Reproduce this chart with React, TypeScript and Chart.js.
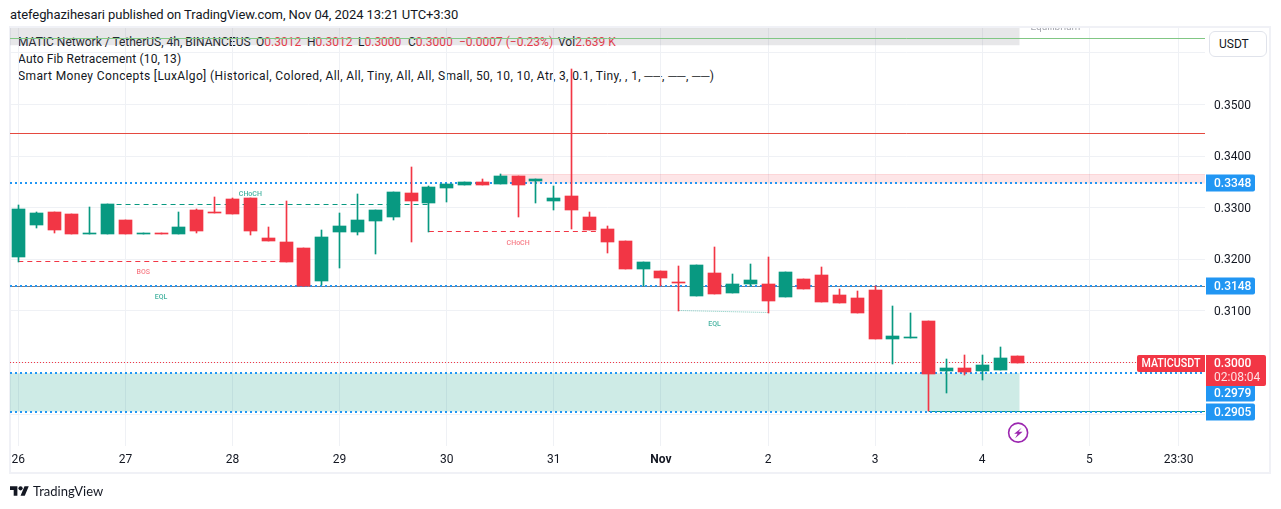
import React, { useEffect, useRef } from "react";
import { Chart, registerables } from "chart.js";

Chart.register(...registerables);

const FONT = "Roboto, sans-serif";
const UP = "#089981";
const DOWN = "#F23645";
const BLUE = "#2196F3";

const opens = [.3204,.3266,.3292,.3288,.3249,.3249,.3276,.3249,.3251,.3249,.3296,.3292,.3317,.3319,.3241,.3233,.3222,.3158,.3253,.3253,.3274,.3282,.3329,.3309,.3338,.3344,.3350,.3346,.3361,.3352,.3313,.3323,.3282,.3259,.3235,.3181,.3177,.3156,.3129,.3173,.3135,.3152,.3152,.3127,.3162,.3170,.3131,.3125,.3141,.3046,.3047,.3080,.2983,.2989,.2983,.2985,.3012];
const closes = [.3297,.3290,.3257,.3249,.3251,.3307,.3249,.3251,.3249,.3263,.3255,.3290,.3288,.3255,.3235,.3195,.3148,.3243,.3265,.3276,.3296,.3330,.3313,.3340,.3346,.3350,.3344,.3361,.3344,.3356,.3319,.3296,.3257,.3233,.3181,.3195,.3164,.3154,.3189,.3133,.3152,.3160,.3119,.3175,.3142,.3117,.3115,.3096,.3046,.3051,.3049,.2978,.2989,.2982,.2995,.3009,.3000];
const highs = [.3305,.3292,.3292,.3288,.3301,.3307,.3276,.3251,.3251,.3292,.3297,.3321,.3319,.3319,.3263,.3313,.3222,.3257,.3290,.3327,.3296,.3330,.3379,.3342,.3346,.3350,.3356,.3365,.3361,.3356,.3342,.3569,.3292,.3265,.3235,.3195,.3177,.3187,.3189,.3224,.3171,.3191,.3204,.3175,.3162,.3185,.3142,.3139,.3148,.3109,.3096,.3080,.3007,.3015,.3015,.3030,.3012];
const lows = [.3195,.3261,.3251,.3249,.3249,.3249,.3249,.3249,.3249,.3249,.3251,.3290,.3288,.3247,.3235,.3195,.3148,.3150,.3183,.3247,.3210,.3276,.3233,.3253,.3311,.3344,.3344,.3346,.3282,.3309,.3296,.3259,.3257,.3212,.3181,.3148,.3148,.3100,.3129,.3133,.3135,.3148,.3096,.3127,.3142,.3117,.3115,.3096,.3046,.2997,.3047,.2906,.2941,.2976,.2966,.2985,.3000];

const xTickIndex = [0, 6, 12, 18, 24, 30, 36, 42, 48, 54, 60, 65];
const xTickLabels = ["26", "27", "28", "29", "30", "31", "Nov", "2", "3", "4", "5", "23:30"];
const yGridValues = [0.29, 0.3, 0.31, 0.32, 0.33, 0.34, 0.35, 0.36];
const yLabelValues = [0.31, 0.32, 0.33, 0.34, 0.35];

const X_MIN = -0.465;
const X_MAX = 66.48;
const Y_MIN = 0.28382;
const Y_MAX = 0.36483;

const levelLines = [0.3348, 0.3148, 0.2979, 0.2905];
const lastPrice = 0.3;
const pinkBand = { from: 27, top: 0.3365, bottom: 0.3347 };
const greenBand = { to: 56.1, top: 0.2979, bottom: 0.2905 };
const grayBand = { to: 56.1, top: 0.3655, bottom: 0.3615 };
const fibGreen = 0.3627;
const fibRed = 0.3444;
const eqBottomStart = 51;
const eqlA = 0.3148;
const upperDash = { from: 5, to: 23, y: 0.3307 };
const lowerDash = { from: 0, to: 15, y: 0.3195 };
const chochDash = { from: 23, to: 32.5, y: 0.3253 };
const eqlDots = [{ x: 37, y: 0.31 }, { x: 42, y: 0.3096 }];
const equilibrium = { text: "Equilibrium", x: 58.1, y: 0.365 };

const smallLabels = [
  { text: "CHoCH", x: 13, y: 0.3327, color: "rgba(8,153,129,0.75)" },
  { text: "BOS", x: 7, y: 0.3174, color: "rgba(242,54,69,0.65)" },
  { text: "EQL", x: 8, y: 0.3127, color: "rgba(8,153,129,0.75)" },
  { text: "CHoCH", x: 28, y: 0.3231, color: "rgba(242,54,69,0.65)" },
  { text: "EQL", x: 39, y: 0.3074, color: "rgba(8,153,129,0.75)" },
];

const blueTags = [
  { text: "0.3348", value: 0.3348, shift: 0 },
  { text: "0.3148", value: 0.3148, shift: 0 },
  { text: "0.2979", value: 0.2979, shift: 20 },
  { text: "0.2905", value: 0.2905, shift: 0 },
];

const legendParts = [
  { left: 256, label: "O", value: "0.3012" },
  { left: 307, label: "H", value: "0.3012" },
  { left: 358, label: "L", value: "0.3000" },
  { left: 408, label: "C", value: "0.3000" },
  { left: 459, label: "", value: "−0.0007 (−0.23%)" },
  { left: 558, label: "Vol", value: "2.639 K" },
];

const crispPlugin = {
  id: "crisp",
  beforeDatasetDraw(chart: any, args: any) {
    const meta = args.meta;
    if (meta.type === "bar") {
      meta.data.forEach((el: any) => {
        el.x = Math.round(el.x - 0.5) + 0.5;
        let top = Math.round(el.y);
        const base = Math.round(el.base);
        if (top === base) top = base - 1;
        el.y = top;
        el.base = base;
      });
    } else {
      const ds = chart.data.datasets[args.index];
      const w = ds.borderWidth || 0;
      meta.data.forEach((el: any) => {
        el.y = w === 1 ? Math.floor(el.y) + 0.5 : Math.round(el.y);
      });
    }
  },
};

const tagsPlugin = {
  id: "tags",
  afterDatasetsDraw(chart: any) {
    const { ctx, scales, chartArea } = chart;
    const y = scales.y;
    const x = scales.x;
    const right = chartArea.right;
    ctx.save();
    ctx.textBaseline = "middle";
    ctx.textAlign = "center";
    ctx.save();
    ctx.beginPath();
    ctx.rect(chartArea.left, chartArea.top, chartArea.width, chartArea.height);
    ctx.clip();
    ctx.font = `11px ${FONT}`;
    ctx.fillStyle = "#A6A8B0";
    ctx.fillText(equilibrium.text, x.getPixelForValue(equilibrium.x), y.getPixelForValue(equilibrium.y), 50);
    ctx.restore();
    ctx.font = `500 7px ${FONT}`;
    smallLabels.forEach((l) => {
      ctx.fillStyle = l.color;
      ctx.fillText(l.text, x.getPixelForValue(l.x), y.getPixelForValue(l.y));
    });
    const roundedTag = (left: number, top: number, w: number, h: number, color: string) => {
      ctx.fillStyle = color;
      ctx.beginPath();
      ctx.roundRect(left, top, w, h, [0, 2, 2, 0]);
      ctx.fill();
    };
    blueTags.forEach((t) => {
      const cy = Math.round(y.getPixelForValue(t.value)) + t.shift;
      roundedTag(right + 1, cy - 8.5, 49, 17, BLUE);
      ctx.fillStyle = "#fff";
      ctx.font = `500 12px ${FONT}`;
      ctx.textAlign = "left";
      ctx.fillText(t.text, right + 9, cy + 0.5);
    });
    const py = Math.round(y.getPixelForValue(lastPrice)) + 0.5;
    roundedTag(right + 1, py - 8.5, 60, 31, DOWN);
    ctx.fillStyle = DOWN;
    ctx.beginPath();
    ctx.roundRect(right - 68, py - 8.5, 68, 17, [2, 0, 0, 2]);
    ctx.fill();
    ctx.fillStyle = "#fff";
    ctx.font = `500 12px ${FONT}`;
    ctx.fillText("MATICUSDT", right - 63.5, py + 0.5, 59);
    ctx.fillText("0.3000", right + 9, py + 0.5);
    ctx.font = `12px ${FONT}`;
    ctx.fillStyle = "rgba(255,255,255,0.85)";
    ctx.fillText("02:08:04", right + 9, py + 14.5);
    const ix = x.getPixelForValue(56) + 0.2;
    const iy = y.getPixelForValue(0.2865) + 0.5;
    ctx.strokeStyle = "#9C27B0";
    ctx.lineWidth = 1.6;
    ctx.beginPath();
    ctx.arc(ix, iy, 9.5, 0, Math.PI * 2);
    ctx.stroke();
    ctx.fillStyle = "#9C27B0";
    ctx.beginPath();
    ctx.moveTo(ix + 3.5, iy - 5);
    ctx.lineTo(ix - 4, iy + 1);
    ctx.lineTo(ix - 0.5, iy + 1);
    ctx.lineTo(ix - 3, iy + 5.5);
    ctx.lineTo(ix + 4.5, iy - 1);
    ctx.lineTo(ix + 0.5, iy - 1);
    ctx.closePath();
    ctx.fill();
    ctx.restore();
  },
};

const hline = (y: number, a: number, b: number) => [{ x: a, y }, { x: b, y }];
const lineBase = { type: "line", pointRadius: 0, fill: false, tension: 0 };

export default function App() {
  const ref = useRef<HTMLCanvasElement>(null);
  useEffect(() => {
    const candleColor = opens.map((o, i) => (closes[i] >= o ? UP : DOWN));
    const chart = new Chart(ref.current as HTMLCanvasElement, {
      type: "bar",
      data: {
        datasets: [
          { ...lineBase, order: 30, data: hline(grayBand.top, X_MIN, grayBand.to), borderWidth: 0, borderColor: "transparent", fill: { value: grayBand.bottom }, backgroundColor: "rgba(120,123,134,0.18)" },
          { ...lineBase, order: 30, data: hline(greenBand.top, X_MIN, greenBand.to), borderWidth: 0, borderColor: "transparent", fill: { value: greenBand.bottom }, backgroundColor: "rgba(8,153,129,0.2)" },
          { ...lineBase, order: 30, data: hline(pinkBand.top, pinkBand.from, X_MAX), borderWidth: 1, borderColor: "rgba(242,54,69,0.12)", fill: { value: pinkBand.bottom }, backgroundColor: "rgba(242,54,69,0.13)" },
          { ...lineBase, order: 25, data: hline(fibGreen, X_MIN, X_MAX), borderColor: "#81C784", borderWidth: 1 },
          { ...lineBase, order: 25, data: hline(fibRed, X_MIN, X_MAX), borderColor: "#E5493F", borderWidth: 1 },
          { ...lineBase, order: 25, data: hline(eqlA, X_MIN, X_MAX), borderColor: "#787B86", borderWidth: 1 },
          { ...lineBase, order: 25, data: hline(levelLines[3], eqBottomStart, X_MAX), borderColor: UP, borderWidth: 1 },
          ...levelLines.map((v) => ({ ...lineBase, order: 20, data: hline(v, X_MIN, X_MAX), borderColor: BLUE, borderWidth: 2, borderDash: [2, 3] })),
          { ...lineBase, order: 20, data: hline(lastPrice, X_MIN, X_MAX), borderColor: DOWN, borderWidth: 1, borderDash: [1, 2] },
          { ...lineBase, order: 18, data: hline(upperDash.y, upperDash.from, upperDash.to), borderColor: UP, borderWidth: 1, borderDash: [5, 4] },
          { ...lineBase, order: 18, data: hline(lowerDash.y, lowerDash.from, lowerDash.to), borderColor: DOWN, borderWidth: 1, borderDash: [5, 4] },
          { ...lineBase, order: 18, data: hline(chochDash.y, chochDash.from, chochDash.to), borderColor: DOWN, borderWidth: 1, borderDash: [5, 4] },
          { ...lineBase, order: 18, data: eqlDots, borderColor: "rgba(8,153,129,0.5)", borderWidth: 1, borderDash: [1, 1] },
          {
            order: 5,
            grouped: false,
            barThickness: 1,
            data: lows.map((l, i) => ({ x: i, y: [l, highs[i]] })),
            backgroundColor: candleColor,
            borderWidth: 0,
          },
          {
            order: 1,
            grouped: false,
            barThickness: 13,
            data: opens.map((o, i) => ({ x: i, y: [o, closes[i]] })),
            backgroundColor: candleColor,
            borderWidth: 0,
          },
        ] as any,
      },
      options: {
        animation: false,
        responsive: false,
        layout: { padding: { left: 10, top: 28, right: 11, bottom: 35 } },
        plugins: { legend: { display: false }, tooltip: { enabled: false } },
        scales: {
          x: {
            type: "linear",
            min: X_MIN,
            max: X_MAX,
            offset: false,
            border: { display: false },
            grid: { color: "#EFF1F5", offset: false, drawTicks: false },
            afterBuildTicks: (s: any) => {
              s.ticks = xTickIndex.map((value) => ({ value }));
            },
            afterFit: (s: any) => {
              s.height = 28;
            },
            ticks: {
              autoSkip: false,
              maxRotation: 0,
              padding: 7,
              color: "#131722",
              font: (c: any) => ({ family: FONT, size: 12, weight: c.tick && c.tick.label === "Nov" ? "bold" : "normal" }),
              callback: (v: any) => {
                const k = xTickIndex.indexOf(v);
                return k >= 0 ? xTickLabels[k] : "";
              },
            },
          },
          y: {
            position: "right",
            min: Y_MIN,
            max: Y_MAX,
            border: { display: false },
            grid: { color: "#EFF1F5", drawTicks: false },
            afterBuildTicks: (s: any) => {
              s.ticks = yGridValues.map((value) => ({ value }));
            },
            afterFit: (s: any) => {
              s.width = 65;
            },
            ticks: {
              autoSkip: false,
              padding: 9,
              labelOffset: 1,
              color: "#131722",
              font: { family: FONT, size: 12 },
              callback: (v: any) => (yLabelValues.includes(v) ? Number(v).toFixed(4) : ""),
            },
          },
        },
      } as any,
      plugins: [crispPlugin, tagsPlugin],
    });
    return () => chart.destroy();
  }, []);

  const line: React.CSSProperties = { position: "absolute", left: 18, whiteSpace: "pre", font: `12px ${FONT}`, color: "#131722", lineHeight: "17px" };
  return (
    <div style={{ position: "absolute", left: 0, top: 0, width: 1281, height: 509, overflow: "hidden", background: "#fff" }}>
      <div style={{ position: "absolute", left: 10, top: 6, font: `13px ${FONT}`, letterSpacing: -0.07, color: "#131722", lineHeight: "17px", whiteSpace: "pre" }}>
        atefeghazihesari published on TradingView.com, Nov 04, 2024 13:21 UTC+3:30
      </div>
      <div style={{ position: "absolute", left: 9, top: 26, width: 1262, height: 448, border: "2px solid #F0F1F6", boxSizing: "border-box" }} />
      <div style={{ ...line, top: 34 }}>MATIC Network / TetherUS, 4h, BINANCEUS</div>
      {legendParts.map((p) => (
        <div key={p.left} style={{ ...line, top: 34, left: p.left }}>
          {p.label}
          <span style={{ color: DOWN }}>{p.value}</span>
        </div>
      ))}
      <div style={{ ...line, top: 51, letterSpacing: 0.15 }}>Auto Fib Retracement (10, 13)</div>
      <div style={{ ...line, top: 68, letterSpacing: 0.37 }}>Smart Money Concepts [LuxAlgo] (Historical, Colored, All, All, Tiny, All, All, Small, 50, 10, 10, Atr, 3, 0.1, Tiny, , 1, ──, ──, ──)</div>
      <canvas ref={ref} width={1281} height={509} style={{ position: "absolute", left: 0, top: 0, width: 1281, height: 509 }} />
      <div style={{ position: "absolute", left: 1209, top: 31, width: 58, height: 26, boxSizing: "border-box", border: "1px solid #E0E3EB", borderRadius: 6, background: "#fff", font: `12px ${FONT}`, color: "#131722", lineHeight: "24px", paddingLeft: 9 }}>USDT</div>
      <svg style={{ position: "absolute", left: 10, top: 486 }} width="19" height="10" viewBox="0 4 36 18">
        <path d="M14 22H7V11H0V4h14v18zM28 22h-8l7.5-18h8L28 22z" fill="#131722" />
        <circle cx="20" cy="8" r="4" fill="#131722" />
      </svg>
      <div style={{ position: "absolute", left: 33, top: 482, font: `13px Lato, sans-serif`, color: "#131722", lineHeight: "18px" }}>TradingView</div>
    </div>
  );
}
